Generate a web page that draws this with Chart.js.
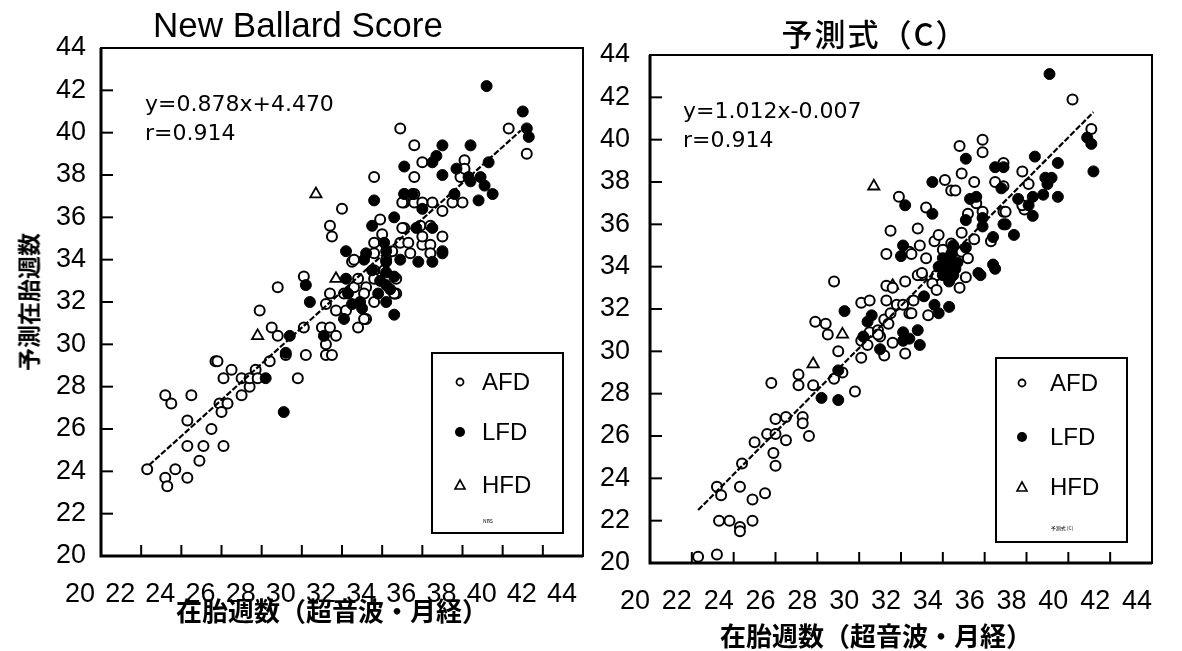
<!DOCTYPE html>
<html><head><meta charset="utf-8">
<script src="https://cdn.jsdelivr.net/npm/chart.js@4.4.0/dist/chart.umd.min.js"></script>
<style>
html,body{margin:0;padding:0;background:#fff;width:1182px;height:651px;overflow:hidden;position:relative;}
canvas{position:absolute;top:0;}
#c1{left:0}
#c2{left:595px}
.t{position:absolute;color:#000;white-space:nowrap;line-height:1;}
</style></head><body>
<canvas id="c1" width="630" height="651"></canvas>
<canvas id="c2" width="610" height="651"></canvas>
<div class="t" id="title1" style="left:298px;top:7px;transform:translateX(-50%);font:35px 'Liberation Sans',Arial,sans-serif;line-height:1;">New Ballard Score</div>
<div class="t" id="title2" style="left:875px;top:17px;transform:translateX(-50%);font:500 31px 'Noto Sans CJK JP',sans-serif;letter-spacing:2px;line-height:1;">予測式（C）</div>
<div class="t" id="ytitle" style="left:28px;top:302px;transform:translate(-50%,-50%) rotate(-90deg);font:bold 23px 'Noto Sans CJK JP',sans-serif;line-height:1;">予測在胎週数</div>
<div class="t" id="xtitle1" style="left:332px;top:597px;transform:translateX(-50%);font:bold 26px 'Noto Sans CJK JP',sans-serif;line-height:1;">在胎週数（超音波・月経）</div>
<div class="t" id="xtitle2" style="left:876px;top:622px;transform:translateX(-50%);font:bold 26px 'Noto Sans CJK JP',sans-serif;line-height:1;">在胎週数（超音波・月経）</div>
<div class="t" style="left:145px;top:93px;font:22px 'DejaVu Sans',sans-serif;line-height:1;">y=0.878x+4.470</div>
<div class="t" style="left:145px;top:121.5px;font:22px 'DejaVu Sans',sans-serif;line-height:1;">r=0.914</div>
<div class="t" style="left:683px;top:99.5px;font:22px 'DejaVu Sans',sans-serif;line-height:1;">y=1.012x-0.007</div>
<div class="t" style="left:683px;top:128.5px;font:22px 'DejaVu Sans',sans-serif;line-height:1;">r=0.914</div>
<script>
// ---------- data ----------
const axisTicks = [20,22,24,26,28,30,32,34,36,38,40,42,44];
const tickLabels = ['20','22','24','26','28','30','32','34','36','38','40','42','44'];
const legendLabels = ['AFD','LFD','HFD'];

// New Ballard Score panel: [gestational age (US/LMP), predicted age]
const nbsAFD = [
[22.3,24.1],[23.2,23.7],[23.3,23.3],[23.7,24.1],[24.3,23.7],[23.2,27.6],[23.5,27.2],[24.5,27.6],[24.3,26.4],[24.3,25.2],
[25.1,25.2],[24.9,24.5],[25.5,26.0],[26.1,25.2],[25.9,27.2],[26.3,27.2],[26.0,26.8],[25.7,29.2],[25.8,29.2],[26.5,28.8],
[26.1,28.4],[27.0,28.4],[27.0,27.6],[27.4,28.0],[27.4,28.4],[27.7,28.8],[27.8,28.4],[28.4,29.2],[28.5,30.8],[27.9,31.6],
[28.8,32.7],[28.8,30.4],[29.2,29.5],[29.8,28.4],[30.1,30.8],[30.2,29.5],[30.1,33.2],[31.0,30.8],[31.4,30.8],[31.7,30.4],
[31.2,30.0],[31.2,29.5],[31.5,29.5],[31.4,32.4],[31.7,31.6],[32.2,31.6],[31.2,31.9],[32.8,30.8],[33.2,31.2],[32.5,33.9],
[33.6,37.9],[32.0,36.4],[31.4,35.6],[31.5,35.1],[32.1,32.4],[32.6,32.7],[32.8,33.1],[33.2,32.7],[33.6,33.5],[33.6,33.1],
[33.1,32.4],[33.6,32.0],[33.1,31.2],[32.6,34.0],[33.6,34.8],[34.0,35.2],[33.9,35.9],[35.1,35.5],[34.9,34.8],[35.3,34.8],
[35.4,34.3],[34.5,34.4],[33.6,34.3],[34.2,34.0],[34.6,32.4],[34.7,32.4],[34.1,33.5],[34.7,33.1],[36.0,34.7],[36.4,34.7],
[36.0,35.1],[36.4,34.3],[37.0,35.1],[35.9,35.6],[36.4,35.6],[36.5,36.7],[37.0,36.3],[35.1,36.7],[35.6,36.7],[35.1,37.1],
[35.6,37.1],[36.0,38.6],[38.1,38.7],[38.0,36.7],[37.9,37.9],[38.1,38.3],[34.9,40.2],[40.3,40.2],[41.2,39.0],[35.6,39.4],
[35.6,37.9],[37.5,36.7],[36.0,36.7],[35.0,36.7],[35.0,35.5],[34.6,32.4]
];
const nbsLFD = [
[29.1,26.8],[28.2,28.4],[29.4,30.4],[29.2,29.6],[30.2,32.8],[30.4,32.0],[31.1,30.4],[32.1,31.2],[33.0,31.7],[34.2,32.0],
[33.6,36.8],[34.6,36.0],[33.5,35.6],[32.2,34.4],[33.1,34.0],[32.2,33.1],[32.9,32.0],[34.1,34.8],[34.2,34.4],[34.2,33.9],
[34.2,33.4],[34.2,32.8],[33.8,32.4],[34.6,33.2],[34.9,34.0],[36.0,36.4],[35.8,33.9],[36.5,33.9],[37.0,34.3],[35.1,38.4],
[36.5,38.6],[37.0,38.0],[37.6,37.1],[37.7,38.3],[38.8,36.8],[38.4,37.7],[39.1,37.5],[39.3,38.6],[36.7,38.9],[39.2,42.2],
[41.0,41.0],[41.2,40.2],[41.3,39.8],[37.0,39.4],[38.4,39.4],[38.3,37.9],[38.9,37.9],[39.5,37.1],[35.1,37.1],[35.5,37.1],
[35.7,35.5],[36.5,35.5],[37.0,34.4],[33.5,33.5],[33.9,33.0],[34.4,32.6],[33.2,34.3],[32.3,32.4],[32.5,31.9],[34.6,31.4]
];
const nbsHFD = [[27.8,30.4],[30.7,37.1],[31.7,33.1]];
const nbsFitLine = [[22.4,24.3],[40.9,40.1]];

// 予測式 (C) panel
const eqAFD = [
[22.3,20.3],[23.2,20.4],[23.2,23.6],[23.4,23.2],[23.3,22.0],[23.8,22.0],[24.3,21.7],[24.3,21.5],[24.9,22.0],[24.3,23.6],
[24.9,23.0],[25.5,23.3],[24.4,24.7],[25.0,25.7],[25.6,26.1],[25.9,25.2],[26.0,24.6],[26.0,26.8],[26.0,26.1],[26.5,26.9],
[26.5,25.8],[25.8,28.5],[27.3,26.9],[27.3,26.6],[27.6,26.0],[27.1,28.9],[27.1,28.4],[27.8,28.4],[27.9,31.4],[28.4,31.3],
[28.5,30.8],[28.8,33.3],[29.0,30.0],[28.8,28.7],[29.2,29.0],[29.8,28.1],[30.1,32.3],[30.1,30.5],[30.1,29.7],[30.4,30.3],
[30.5,30.9],[30.9,31.0],[31.0,30.7],[31.2,29.8],[31.2,31.5],[31.3,33.1],[32.2,33.3],[31.8,32.2],[32.2,29.9],[31.6,30.4],
[31.5,31.8],[32.4,31.8],[33.0,33.6],[33.7,33.6],[31.9,37.3],[33.2,36.8],[32.8,35.8],[31.5,35.7],[31.3,34.6],[32.4,34.7],
[33.2,34.4],[33.6,35.2],[34.1,38.1],[34.4,37.6],[34.8,39.7],[35.9,40.0],[35.9,39.4],[34.9,38.4],[35.5,38.0],[35.6,37.0],
[36.5,38.0],[36.9,38.9],[36.9,37.8],[37.8,38.5],[37.9,36.7],[36.9,36.6],[36.3,35.2],[35.9,36.6],[35.2,36.5],[35.5,35.3],
[34.9,35.6],[34.4,35.1],[32.5,34.6],[33.8,35.5],[34.0,34.8],[34.5,34.7],[34.9,34.7],[35.2,34.4],[35.1,33.5],[34.8,33.0],
[32.8,33.6],[33.5,33.2],[33.7,32.9],[32.1,32.2],[31.3,32.4],[32.6,32.4],[33.3,31.7],[32.5,31.8],[30.5,32.4],[31.4,31.3],
[38.1,37.9],[37.8,36.9],[37.0,36.6],[40.2,41.9],[41.1,40.5],[34.6,37.6],[32.9,35.0],[33.0,33.7],[31.6,33.0],[30.9,30.8]
];
const eqLFD = [
[28.2,27.8],[29.0,27.7],[29.0,29.1],[29.3,31.9],[30.2,30.7],[30.6,31.7],[31.0,30.1],[32.1,30.9],[32.1,30.5],[32.9,30.3],
[32.8,31.0],[32.2,36.9],[33.5,36.5],[33.5,38.0],[32.1,35.0],[32.0,34.5],[35.1,39.1],[35.6,37.3],[36.5,38.7],[36.8,37.7],
[37.6,37.2],[36.9,36.0],[37.4,35.5],[36.4,35.4],[35.1,36.2],[35.9,35.9],[35.1,34.9],[34.2,34.0],[34.5,33.6],[34.3,33.3],
[34.7,34.2],[35.8,33.6],[36.5,33.9],[34.0,33.6],[33.1,32.6],[33.6,32.2],[34.3,32.1],[33.8,31.8],[30.4,31.4],[39.1,43.1],
[40.9,40.1],[41.1,39.8],[41.2,38.5],[38.4,39.2],[39.5,38.9],[36.9,38.7],[38.9,38.2],[39.2,38.2],[39.0,37.9],[38.3,37.3],
[38.8,37.4],[39.5,37.3],[38.1,36.9],[38.3,36.4],[35.3,37.2],[35.9,36.3],[37.0,36.0],[34.5,35.0],[34.3,34.4],[36.4,34.1],
[35.7,33.7],[34.6,33.9],[34.4,34.6],[33.8,34.0],[32.4,30.6],[34.2,34.2],[34.4,33.5],[34.0,34.4]
];
const eqHFD = [[27.8,29.4],[29.2,30.8],[30.7,37.8],[31.6,33.1]];
const eqFitLine = [[22.3,22.5],[41.2,41.3]];

// ---------- helpers ----------
const toXY = arr => arr.map(p => ({x:p[0], y:p[1]}));
const TICK_FONT = {family:"'Liberation Sans', Arial, sans-serif", size:27};

const frameLegend = {
  id:'frameLegend',
  afterDatasetsDraw(chart, args, o){
    const {ctx, chartArea:a, scales:{x, y}} = chart;
    ctx.save();
    ctx.strokeStyle = '#000';
    ctx.lineWidth = 2;
    axisTicks.slice(1, -1).forEach(v => {
      const px = x.getPixelForValue(v);
      ctx.beginPath(); ctx.moveTo(px, a.bottom); ctx.lineTo(px, a.bottom - 11); ctx.stroke();
      const py = y.getPixelForValue(v);
      ctx.beginPath(); ctx.moveTo(a.left, py); ctx.lineTo(a.left + 12, py); ctx.stroke();
    });
    ctx.lineWidth = 2;
    ctx.strokeRect(a.left, a.top, a.right - a.left, a.bottom - a.top);
    ctx.lineWidth = 3;
    ctx.beginPath(); ctx.moveTo(a.left, a.top); ctx.lineTo(a.left, a.bottom); ctx.lineTo(a.right, a.bottom); ctx.stroke();
    // legend box
    const bx = a.left + o.dx, by = a.top + o.dy;
    ctx.fillStyle = '#fff'; ctx.fillRect(bx, by, o.w, o.h);
    ctx.lineWidth = 2; ctx.strokeRect(bx, by, o.w, o.h);
    ctx.font = "24px 'Liberation Sans', Arial, sans-serif";
    ctx.textBaseline = 'middle';
    legendLabels.forEach((lab, i) => {
      const sx = bx + o.symX, sy = by + o.rows[i];
      ctx.fillStyle = '#000'; ctx.strokeStyle = '#000';
      if (i === 0) { ctx.lineWidth = 1.8; ctx.beginPath(); ctx.arc(sx, sy, 3.5, 0, Math.PI*2); ctx.stroke(); }
      else if (i === 1) { ctx.beginPath(); ctx.arc(sx, sy, 5, 0, Math.PI*2); ctx.fill(); }
      else { ctx.lineWidth = 1.6; ctx.beginPath(); ctx.moveTo(sx, sy - 5); ctx.lineTo(sx + 5, sy + 4); ctx.lineTo(sx - 5, sy + 4); ctx.closePath(); ctx.stroke(); }
      ctx.fillStyle = '#000';
      ctx.fillText(lab, bx + o.textX, sy + 1);
    });
    ctx.font = "5px 'Noto Sans CJK JP', sans-serif";
    ctx.textAlign = 'center';
    ctx.fillText(o.tiny, bx + o.tinyX, by + o.tinyY);
    ctx.restore();
  }
};

function makeChart(id, afd, lfd, hfd, fit, lay){
  const chart = new Chart(document.getElementById(id), {
    type:'scatter',
    data:{datasets:[
      {label:'fit', data:toXY(fit), showLine:true, pointRadius:0, borderColor:'#000', borderWidth:2.2, borderDash:[6,2], order:0},
      {label:legendLabels[1], data:toXY(lfd), pointStyle:'circle', pointRadius:5.5, borderWidth:1, borderColor:'#000', backgroundColor:'#000'},
      {label:legendLabels[0], data:toXY(afd), pointStyle:'circle', pointRadius:5, borderWidth:2, borderColor:'#000', backgroundColor:'#fff'},
      {label:legendLabels[2], data:toXY(hfd), pointStyle:'triangle', pointRadius:6.5, borderWidth:1.8, borderColor:'#000', backgroundColor:'#fff'}
    ]},
    options:{
      responsive:false, animation:false, events:[],
      layout:{padding:{left:0, top:lay.area.top, right:40, bottom:0}},
      plugins:{legend:{display:false}, tooltip:{enabled:false}, title:{display:false}, frameLegend:lay.legend},
      scales:{
        x:{type:'linear', min:20, max:44,
           afterBuildTicks:s => { s.ticks = axisTicks.map(v => ({value:v})); },
           afterFit:s => { s.height = lay.xh; },
           grid:{display:false, drawTicks:false}, border:{display:false},
           ticks:{font:TICK_FONT, color:'#000', padding:lay.xpad, labelOffset:lay.xoff, maxRotation:0, autoSkip:false,
                  callback:(v, i) => tickLabels[i]}},
        y:{type:'linear', min:20, max:44,
           afterBuildTicks:s => { s.ticks = axisTicks.map(v => ({value:v})); },
           afterFit:s => { s.width = lay.yw; },
           grid:{display:false, drawTicks:false}, border:{display:false},
           ticks:{font:TICK_FONT, color:'#000', padding:lay.ypad, autoSkip:false,
                  callback:(v, i) => tickLabels[i]}}
      }
    },
    plugins:[frameLegend]
  });
  // nudge layout padding so the plot frame lands where the original frame is
  for (let k = 0; k < 5; k++) {
    const ca = chart.chartArea, p = chart.options.layout.padding, t = lay.area;
    const dl = t.left - ca.left, dt = t.top - ca.top, dr = ca.right - t.right, db = ca.bottom - t.bottom;
    if (!dl && !dt && !dr && !db) break;
    chart.options.layout.padding = {left:p.left + dl, top:p.top + dt, right:p.right + dr, bottom:p.bottom + db};
    chart.update('none');
  }
  return chart;
}

makeChart('c1', nbsAFD, nbsLFD, nbsHFD, nbsFitLine,
  {area:{left:101, top:48, right:583, bottom:556}, xh:95, yw:101, xpad:22, xoff:-21, ypad:15,
   legend:{dx:331, dy:305, w:131, h:180, symX:28, textX:50, rows:[29,79,132], tiny:'NBS', tinyX:56, tinyY:168}});
makeChart('c2', eqAFD, eqLFD, eqHFD, eqFitLine,
  {area:{left:55, top:55, right:557, bottom:563}, xh:88, yw:55, xpad:22, xoff:-15, ypad:20,
   legend:{dx:346, dy:303, w:131, h:184, symX:26, textX:54, rows:[25,79,129], tiny:'予測式 (C)', tinyX:66, tinyY:170}});
</script>
</body></html>
